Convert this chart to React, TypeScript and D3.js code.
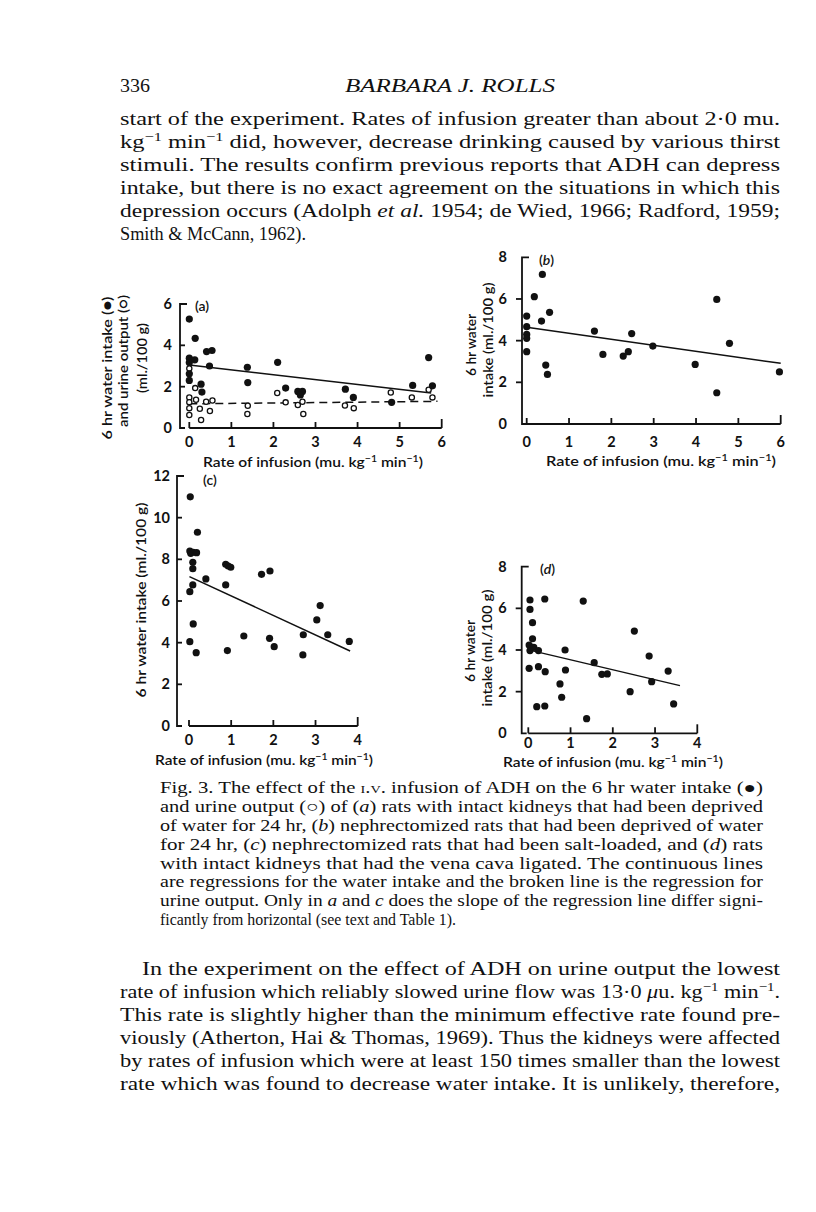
import React from 'react';
import * as d3 from 'd3';

// ---------- data ----------
// panel (a): water intake (filled) and urine output (open)
const aWaterX = [0, 0, 0, 0.13, 0.14, 0, 0, 0.28, 0.3, 0.41, 0.54, 0.48, 1.38, 1.39, 2.1, 2.29, 2.58, 2.69, 2.64, 3.71, 3.9, 4.81, 5.31, 5.69, 5.78];
const aWaterY = [5.27, 3.38, 3.17, 3.3, 4.34, 2.62, 2.3, 2.12, 1.74, 3.7, 3.75, 3.0, 2.94, 2.2, 3.18, 1.93, 1.77, 1.77, 1.6, 1.88, 1.48, 1.24, 2.06, 3.41, 2.04];
const aUrineX = [0, 0.14, 0, 0, 0, 0, 0.16, 0.25, 0.28, 0.4, 0.49, 0.55, 1.39, 1.38, 2.09, 2.29, 2.58, 2.69, 2.71, 3.7, 3.91, 4.79, 5.29, 5.69, 5.78];
const aUrineY = [2.88, 1.93, 1.48, 1.25, 0.96, 0.63, 1.37, 0.93, 0.39, 1.27, 0.82, 1.33, 1.08, 0.68, 1.69, 1.24, 1.11, 1.27, 0.68, 1.09, 0.96, 1.72, 1.48, 1.85, 1.48];
const aWaterRegX = [0, 5.75];
const aWaterRegY = [3.05, 1.69];
const aUrineRegX = [0, 5.9];
const aUrineRegY = [1.17, 1.29];

// panel (b)
const bX = [0, 0, 0, 0, 0, 0.18, 0.37, 0.35, 0.54, 0.45, 0.49, 1.6, 1.8, 2.28, 2.4, 2.48, 2.98, 3.98, 4.49, 4.49, 4.79, 5.97];
const bY = [5.18, 4.67, 4.3, 4.11, 3.47, 6.11, 7.18, 4.94, 5.36, 2.83, 2.38, 4.46, 3.34, 3.26, 3.47, 4.34, 3.74, 2.86, 5.98, 1.5, 3.87, 2.5];
const bRegX = [0, 6];
const bRegY = [4.64, 2.91];

// panel (c)
const cX = [0.03, 0.02, 0.04, 0.1, 0.2, 0.18, 0.09, 0.09, 0.09, 0.02, 0.1, 0.02, 0.17, 0.4, 0.87, 0.93, 0.99, 0.87, 0.91, 1.3, 1.72, 1.92, 1.91, 2.02, 2.7, 2.71, 3.03, 3.11, 3.29, 3.8];
const cY = [11.0, 8.4, 8.29, 8.34, 9.3, 8.32, 7.86, 7.55, 6.77, 6.45, 4.9, 4.05, 3.52, 7.06, 7.76, 7.68, 7.62, 6.77, 3.62, 4.32, 7.28, 7.44, 4.21, 3.81, 3.41, 4.38, 5.09, 5.78, 4.38, 4.06];
const cRegX = [0.01, 3.82];
const cRegY = [7.17, 3.6];

// panel (d)
const dX = [0.04, 0.04, 0.1, 0.1, 0.02, 0.04, 0.13, 0.24, 0.02, 0.24, 0.39, 0.4, 0.2, 0.39, 0.75, 0.79, 0.87, 0.88, 1.3, 1.38, 1.56, 1.74, 1.87, 2.41, 2.51, 2.86, 2.92, 3.31, 3.44];
const dY = [6.4, 5.95, 5.31, 4.54, 4.24, 3.97, 4.13, 3.97, 3.12, 3.2, 6.45, 2.96, 1.28, 1.31, 2.37, 1.73, 4.0, 3.04, 6.35, 0.7, 3.39, 2.83, 2.85, 2.0, 4.91, 3.71, 2.48, 2.99, 1.41];
const dRegX = [0.08, 3.59];
const dRegY = [3.97, 2.29];

const ticks6 = [0, 1, 2, 3, 4, 5, 6];
const ticks4 = [0, 1, 2, 3, 4];
const yTicks6 = [0, 2, 4, 6];
const yTicks8 = [0, 2, 4, 6, 8];
const yTicks12 = [0, 2, 4, 6, 8, 10, 12];

// ---------- text ----------
const SERIF = '"Liberation Serif", "DejaVu Serif", serif';
const SANS = 'Lato, "Open Sans", sans-serif';
const INK = '#111';

const RateLabel = ({ x, y, w }: any) => (
  <text x={x} y={y} fontFamily={SANS} fontSize={14} fontWeight={600} fill={INK} textLength={w} lengthAdjust="spacingAndGlyphs">
    Rate of infusion (mu. kg<tspan dy={-5} fontSize={9.5}>−1</tspan><tspan dy={5}> min</tspan><tspan dy={-5} fontSize={9.5}>−1</tspan><tspan dy={5}>)</tspan>
  </text>
);

type Cfg = {
  xMax: number; yMax: number; x0: number; x1: number; y0: number; y1: number; axisX: number;
  tickOut: boolean; labelGap: number; xLabOff: number;
  xTicks: number[]; yTicks: number[];
  fx: number[]; fy: number[]; ox?: number[]; oy?: number[];
  regX: number[]; regY: number[]; dRegX?: number[]; dRegY?: number[];
  tag: string; tagItalic: boolean; tagX: number; tagY: number;
};

const Panel = ({ c }: { c: Cfg }) => {
  const x = d3.scaleLinear().domain([0, c.xMax]).range([c.x0, c.x1]);
  const y = d3.scaleLinear().domain([0, c.yMax]).range([c.y0, c.y1]);
  const line = d3.line<number>().x((_, i) => x(c.regX[i])).y((_, i) => y(c.regY[i]));
  const dline = c.dRegX ? d3.line<number>().x((_, i) => x(c.dRegX![i])).y((_, i) => y(c.dRegY![i])) : null;
  const yTop = y(c.yMax);
  const yBot = y(0);
  const tl = c.tickOut ? -6 : 5;
  return (
    <g>
      {/* y axis */}
      <path d={`M${c.axisX + 7},${yTop}H${c.axisX}V${yBot}H${c.axisX + 5}`} fill="none" stroke={INK} strokeWidth={1.8} />
      {c.yTicks.filter(t => t !== 0 && t !== c.yMax).map(t => (
        <line key={t} x1={c.axisX} x2={c.axisX + tl} y1={y(t)} y2={y(t)} stroke={INK} strokeWidth={1.8} />
      ))}
      {c.yTicks.map(t => (
        <text key={'yl' + t} x={c.axisX - c.labelGap} y={y(t) + 5} textAnchor="end" fontFamily={SANS} fontSize={14.5} fontWeight={700} fill={INK}>{t}</text>
      ))}
      {/* x axis */}
      <path d={`M${x(0)},${yBot}H${x(c.xMax)}`} fill="none" stroke={INK} strokeWidth={1.8} />
      {c.xTicks.map(t => (
        <line key={'xt' + t} x1={x(t)} x2={x(t)} y1={yBot} y2={yBot - (t === c.xMax ? 9 : 6)} stroke={INK} strokeWidth={1.8} />
      ))}
      {c.xTicks.map(t => (
        <text key={'xl' + t} x={x(t)} y={yBot + c.xLabOff} textAnchor="middle" fontFamily={SANS} fontSize={14.5} fontWeight={700} fill={INK}>{t}</text>
      ))}
      {/* regression lines */}
      <path d={line(c.regX) || ''} fill="none" stroke={INK} strokeWidth={1.5} />
      {dline && <path d={dline(c.dRegX!) || ''} fill="none" stroke={INK} strokeWidth={1.5} strokeDasharray="8,5" />}
      {/* points */}
      {c.ox && c.ox.map((v, i) => (
        <circle key={'o' + i} cx={x(v)} cy={y(c.oy![i])} r={2.6} fill="#fff" stroke={INK} strokeWidth={1.3} />
      ))}
      {c.fx.map((v, i) => (
        <circle key={'f' + i} cx={x(v)} cy={y(c.fy[i])} r={3.6} fill={INK} />
      ))}
      <text x={c.tagX} y={c.tagY} fontFamily={SANS} fontSize={14} fontWeight={600} fill={INK}>
        (<tspan fontStyle={c.tagItalic ? 'italic' : 'normal'}>{c.tag}</tspan>)
      </text>
    </g>
  );
};

const panelA: Cfg = {
  xMax: 6, yMax: 6, x0: 189.3, x1: 441.7, y0: 428, y1: 304, axisX: 180, tickOut: false, labelGap: 8, xLabOff: 19,
  xTicks: ticks6, yTicks: yTicks6, fx: aWaterX, fy: aWaterY, ox: aUrineX, oy: aUrineY,
  regX: aWaterRegX, regY: aWaterRegY, dRegX: aUrineRegX, dRegY: aUrineRegY,
  tag: 'a', tagItalic: false, tagX: 195, tagY: 311,
};
const panelB: Cfg = {
  xMax: 6, yMax: 8, x0: 526.7, x1: 780.7, y0: 424, y1: 257.3, axisX: 522, tickOut: true, labelGap: 15, xLabOff: 23,
  xTicks: ticks6, yTicks: yTicks8, fx: bX, fy: bY, regX: bRegX, regY: bRegY,
  tag: 'b', tagItalic: true, tagX: 539, tagY: 265,
};
const panelC: Cfg = {
  xMax: 4, yMax: 12, x0: 189, x1: 357.7, y0: 726, y1: 476, axisX: 177, tickOut: false, labelGap: 7, xLabOff: 19,
  xTicks: ticks4, yTicks: yTicks12, fx: cX, fy: cY, regX: cRegX, regY: cRegY,
  tag: 'c', tagItalic: false, tagX: 203, tagY: 485,
};
const panelD: Cfg = {
  xMax: 4, yMax: 8, x0: 528.3, x1: 697.3, y0: 733.3, y1: 566.7, axisX: 521.7, tickOut: true, labelGap: 15, xLabOff: 15,
  xTicks: ticks4, yTicks: yTicks8, fx: dX, fy: dY, regX: dRegX, regY: dRegY,
  tag: 'd', tagItalic: true, tagX: 540, tagY: 574,
};

const YLab = ({ x, y, w, children }: any) => (
  <text transform={`translate(${x},${y}) rotate(-90)`} textAnchor="middle" fontFamily={SANS} fontSize={14} fontWeight={600} fill={INK} textLength={w} lengthAdjust="spacingAndGlyphs">{children}</text>
);

const J = ({ x, y, w, size, children }: any) => (
  <text x={x} y={y} fontFamily={SERIF} fontSize={size} fill={INK} textLength={w} lengthAdjust="spacingAndGlyphs">{children}</text>
);
const T = ({ x, y, size, children, w }: any) => (
  <text x={x} y={y} fontFamily={SERIF} fontSize={size} fill={INK} textLength={w} lengthAdjust="spacingAndGlyphs">{children}</text>
);

export default function App() {
  const bs = 19.5; // body size
  const cs = 16; // caption size
  return (
    <svg width={816} height={1212} style={{ position: 'absolute', left: 0, top: 0, background: '#fff' }}>
      <rect width={816} height={1212} fill="#fff" />
      {/* header */}
      <T x={120} y={92} size={18} w={30}>336</T>
      <text x={345} y={92} fontFamily={SERIF} fontSize={18} fontStyle="italic" fill={INK} textLength={210} lengthAdjust="spacingAndGlyphs">BARBARA J. ROLLS</text>

      {/* top paragraph */}
      <J x={120} y={125} w={660} size={bs}>start of the experiment. Rates of infusion greater than about 2·0 mu.</J>
      <J x={120} y={148} w={660} size={bs}>kg<tspan dy={-7} fontSize={13}>−1</tspan><tspan dy={7}> min</tspan><tspan dy={-7} fontSize={13}>−1</tspan><tspan dy={7}> did, however, decrease drinking caused by various thirst</tspan></J>
      <J x={120} y={171} w={660} size={bs}>stimuli. The results confirm previous reports that ADH can depress</J>
      <J x={120} y={194} w={660} size={bs}>intake, but there is no exact agreement on the situations in which this</J>
      <J x={120} y={217} w={660} size={bs}>depression occurs (Adolph <tspan fontStyle="italic">et al.</tspan> 1954; de Wied, 1966; Radford, 1959;</J>
      <T x={120} y={240} size={bs} w={186}>Smith &amp; McCann, 1962).</T>

      {/* panels */}
      <Panel c={panelA} />
      <Panel c={panelB} />
      <Panel c={panelC} />
      <Panel c={panelD} />

      {/* y labels */}
      <YLab x={112} y={368} w={143}>6 hr water intake (●)</YLab>
      <YLab x={128} y={361} w={132}>and urine output (○)</YLab>
      <YLab x={147} y={358} w={70}>(ml./100 g)</YLab>

      <YLab x={476} y={345} w={62}>6 hr water</YLab>
      <YLab x={493} y={340} w={115}>intake (ml./100 g)</YLab>

      <YLab x={146} y={600} w={195}>6 hr water intake (ml./100 g)</YLab>

      <YLab x={475} y={651} w={62}>6 hr water</YLab>
      <YLab x={492} y={648} w={117}>intake (ml./100 g)</YLab>

      {/* x labels */}
      <RateLabel x={203} y={467} w={220} />
      <RateLabel x={546} y={466} w={230} />
      <RateLabel x={155} y={765} w={218} />
      <RateLabel x={503} y={767} w={220} />

      {/* caption */}
      <J x={160} y={793} w={603} size={cs}>Fig. 3. The effect of the <tspan style={{ fontVariant: 'small-caps' }}>i.v.</tspan> infusion of ADH on the 6 hr water intake (●)</J>
      <J x={160} y={812} w={603} size={cs}>and urine output (○) of (<tspan fontStyle="italic">a</tspan>) rats with intact kidneys that had been deprived</J>
      <J x={160} y={831} w={603} size={cs}>of water for 24 hr, (<tspan fontStyle="italic">b</tspan>) nephrectomized rats that had been deprived of water</J>
      <J x={160} y={850} w={603} size={cs}>for 24 hr, (<tspan fontStyle="italic">c</tspan>) nephrectomized rats that had been salt-loaded, and (<tspan fontStyle="italic">d</tspan>) rats</J>
      <J x={160} y={869} w={603} size={cs}>with intact kidneys that had the vena cava ligated. The continuous lines</J>
      <J x={160} y={887} w={603} size={cs}>are regressions for the water intake and the broken line is the regression for</J>
      <J x={160} y={906} w={603} size={cs}>urine output. Only in <tspan fontStyle="italic">a</tspan> and <tspan fontStyle="italic">c</tspan> does the slope of the regression line differ signi-</J>
      <T x={160} y={925} size={cs} w={296}>ficantly from horizontal (see text and Table 1).</T>

      {/* bottom paragraph */}
      <J x={142} y={975} w={638} size={bs}>In the experiment on the effect of ADH on urine output the lowest</J>
      <J x={120} y={998} w={660} size={bs}>rate of infusion which reliably slowed urine flow was 13·0 <tspan fontStyle="italic">μ</tspan>u. kg<tspan dy={-7} fontSize={13}>−1</tspan><tspan dy={7}> min</tspan><tspan dy={-7} fontSize={13}>−1</tspan><tspan dy={7}>.</tspan></J>
      <J x={120} y={1021} w={660} size={bs}>This rate is slightly higher than the minimum effective rate found pre-</J>
      <J x={120} y={1044} w={660} size={bs}>viously (Atherton, Hai &amp; Thomas, 1969). Thus the kidneys were affected</J>
      <J x={120} y={1067} w={660} size={bs}>by rates of infusion which were at least 150 times smaller than the lowest</J>
      <J x={120} y={1090} w={660} size={bs}>rate which was found to decrease water intake. It is unlikely, therefore,</J>
    </svg>
  );
}
